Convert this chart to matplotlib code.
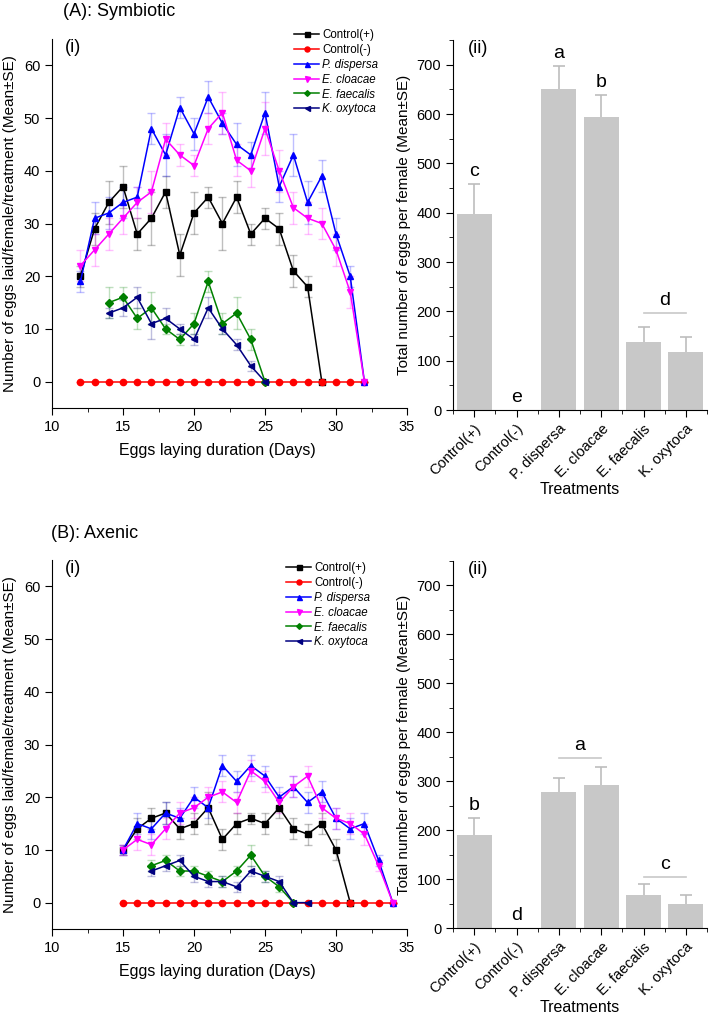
import numpy as np
import matplotlib
matplotlib.use("Agg")
import matplotlib.pyplot as plt
from matplotlib.ticker import MultipleLocator

plt.rcParams['font.family'] = ['Liberation Sans', 'DejaVu Sans']

series_names = ["Control(+)", "Control(-)", "P. dispersa", "E. cloacae", "E. faecalis", "K. oxytoca"]
colors = ["#000000", "#ff0000", "#0000ff", "#ff00ff", "#008000", "#000080"]
markers = ["s", "o", "^", "v", "D", "<"]

# ---- (A) symbiotic, daily eggs ----
symb_days = {
    "Control(+)": list(range(12, 30)),
    "Control(-)": list(range(12, 33)),
    "P. dispersa": list(range(12, 33)),
    "E. cloacae": list(range(12, 33)),
    "E. faecalis": list(range(14, 26)),
    "K. oxytoca": list(range(14, 26)),
}
symb_mean = {
    "Control(+)": [20, 29, 34, 37, 28, 31, 36, 24, 32, 35, 30, 35, 28, 31, 29, 21, 18, 0],
    "Control(-)": [0] * 21,
    "P. dispersa": [19, 31, 32, 34, 35, 48, 43, 52, 47, 54, 49, 45, 43, 51, 37, 43, 34, 39, 28, 20, 0],
    "E. cloacae": [22, 25, 28, 31, 34, 36, 46, 43, 41, 48, 51, 42, 40, 48, 40, 33, 31, 30, 25, 17, 0],
    "E. faecalis": [15, 16, 12, 14, 10, 8, 11, 19, 11, 13, 8, 0],
    "K. oxytoca": [13, 14, 16, 11, 12, 10, 8, 14, 10, 7, 3, 0],
}
symb_se = {
    "Control(+)": [2, 3, 4, 4, 3, 5, 3, 4, 4, 2, 5, 3, 2, 2, 3, 3, 2, 0],
    "Control(-)": [0] * 21,
    "P. dispersa": [2, 3, 3, 3, 2, 3, 4, 2, 3, 3, 2, 4, 2.5, 4, 3, 4, 4, 3, 3, 2, 0],
    "E. cloacae": [3, 3, 3, 3, 3, 4, 3, 2, 2, 3, 4, 3, 3, 5, 4, 3, 3, 3, 3, 3, 0],
    "E. faecalis": [3, 2, 2, 3, 1, 1, 2, 2, 2, 3, 2, 0],
    "K. oxytoca": [1, 1.5, 2, 3, 2, 1, 1, 2, 1, 1, 1, 0],
}

# ---- (B) axenic, daily eggs ----
axen_days = {
    "Control(+)": list(range(15, 32)),
    "Control(-)": list(range(15, 35)),
    "P. dispersa": list(range(15, 35)),
    "E. cloacae": list(range(15, 35)),
    "E. faecalis": list(range(17, 28)),
    "K. oxytoca": list(range(17, 29)),
}
axen_mean = {
    "Control(+)": [10, 14, 16, 17, 14, 15, 18, 12, 15, 16, 15, 18, 14, 13, 15, 10, 0],
    "Control(-)": [0] * 20,
    "P. dispersa": [10, 15, 14, 17, 16, 20, 18, 26, 23, 26, 24, 20, 22, 19, 21, 16, 14, 15, 8, 0],
    "E. cloacae": [10, 12, 11, 14, 17, 18, 20, 21, 19, 25, 23, 19, 22, 24, 18, 16, 15, 13, 7, 0],
    "E. faecalis": [7, 8, 6, 6, 5, 4, 6, 9, 5, 3, 0],
    "K. oxytoca": [6, 7, 8, 5, 4, 4, 3, 6, 5, 4, 0, 0],
}
axen_se = {
    "Control(+)": [1, 2, 2, 2, 2, 2, 3, 2, 2, 1, 2, 2, 2, 2, 2, 2, 0],
    "Control(-)": [0] * 20,
    "P. dispersa": [1, 2, 2, 2, 2, 2, 2, 2, 2, 2, 2, 2, 2, 2, 2, 2, 2, 2, 1, 0],
    "E. cloacae": [1, 2, 2, 2, 2, 2, 2, 2, 2, 2, 2, 2, 2, 2, 2, 2, 2, 2, 1, 0],
    "E. faecalis": [1, 1, 1, 1, 1, 1, 1, 2, 1, 1, 0],
    "K. oxytoca": [1, 1, 1, 1, 1, 1, 1, 1, 1, 1, 0, 0],
}

# ---- total eggs per female ----
treatments = ["Control(+)", "Control(-)", "P. dispersa", "E. cloacae", "E. faecalis", "K. oxytoca"]
symb_total = [398, 0, 651, 594, 137, 118]
symb_total_se = [60, 0, 47, 44, 32, 30]
symb_letters = ["c", "e", "a", "b", "", ""]
symb_groups = [(4, 5, 197, "d")]
axen_total = [190, 0, 278, 293, 68, 49]
axen_total_se = [34, 0, 28, 36, 22, 18]
axen_letters = ["b", "d", "", "", "", ""]
axen_groups = [(2, 3, 347, "a"), (4, 5, 105, "c")]

W, H = 709, 1015
fig = plt.figure(figsize=(W / 100, H / 100), dpi=100)


def px(l, t, r, b):
    return [l / W, 1 - b / H, (r - l) / W, (b - t) / H]


def line_panel(rect, days, mean, se, leg_xy):
    ax = fig.add_axes(rect)
    handles = []
    for name, c, m in zip(series_names, colors, markers):
        ax.errorbar(days[name], mean[name], yerr=se[name], fmt="none",
                    ecolor=c, alpha=0.25, elinewidth=1, capsize=3, capthick=1, zorder=1)
        ms = 3.6 if m == "D" else 4.5
        h, = ax.plot(days[name], mean[name], color=c, marker=m, ms=ms, lw=1.1, zorder=2)
        handles.append(h)
    ax.set_xlim(10, 35)
    ax.set_ylim(-5, 65)
    ax.xaxis.set_major_locator(MultipleLocator(5))
    ax.xaxis.set_minor_locator(MultipleLocator(2.5))
    ax.set_yticks([0, 10, 20, 30, 40, 50, 60])
    for s in ["top", "right"]:
        ax.spines[s].set_visible(False)
    ax.tick_params(which="major", direction="out", length=5, labelsize=10.5)
    ax.tick_params(which="minor", direction="out", length=3)
    ax.set_xlabel("Eggs laying duration (Days)", fontsize=11.5)
    ax.xaxis.set_label_coords(0.465, -0.095)
    ax.set_ylabel("Number of eggs laid/female/treatment (Mean\u00b1SE)", fontsize=11, labelpad=5)
    ax.text(0.037, 0.978, "(i)", transform=ax.transAxes, fontsize=13, va="center", ha="left")
    leg = fig.legend(handles, series_names, loc="upper left",
                     bbox_to_anchor=(leg_xy[0] / W, 1 - leg_xy[1] / H), frameon=False,
                     fontsize=8.3, handlelength=2.2, handletextpad=0.25, labelspacing=0.25,
                     borderpad=0, borderaxespad=0, markerscale=0.8)
    for t in leg.get_texts()[2:]:
        t.set_style("italic")
    return ax


def bar_panel(rect, vals, errs, letters, groups):
    ax = fig.add_axes(rect)
    x = np.arange(len(treatments))
    vals = np.array(vals, dtype=float)
    errs = np.array(errs, dtype=float)
    ax.bar(x, vals, width=0.82, color="#c8c8c8", zorder=1)
    has = errs > 0
    ax.vlines(x[has], vals[has], vals[has] + errs[has], color="#bdbdbd", lw=1.2, zorder=2)
    ax.plot(x[has], vals[has] + errs[has], ls="none", marker="_", ms=9, mew=1.2,
            color="#bdbdbd", zorder=2)
    for xi, v, e, lt in zip(x, vals, errs, letters):
        if lt:
            ax.text(xi, v + e + 8, lt, ha="center", va="bottom", fontsize=14)
    for i0, i1, yl, lt in groups:
        ax.plot([i0, i1], [yl, yl], color="#c8c8c8", lw=1.2)
        ax.text((i0 + i1) / 2, yl + 8, lt, ha="center", va="bottom", fontsize=14)
    ax.set_xlim(-0.5, 5.5)
    ax.set_ylim(0, 750)
    ax.yaxis.set_major_locator(MultipleLocator(100))
    ax.yaxis.set_minor_locator(MultipleLocator(50))
    ax.set_xticks(x)
    ax.set_xticks(np.arange(-0.5, 5.6, 1), minor=True)
    ax.set_xticklabels(treatments, rotation=45, ha="right", rotation_mode="anchor", fontsize=10.5)
    for s in ["top", "right"]:
        ax.spines[s].set_visible(False)
    ax.tick_params(which="major", direction="out", length=5, labelsize=10.5)
    ax.tick_params(which="minor", direction="out", length=3)
    ax.set_xlabel("Treatments", fontsize=11.5, labelpad=0)
    ax.set_ylabel("Total number of eggs per female (Mean\u00b1SE)", fontsize=11, labelpad=4)
    ax.text(0.06, 0.978, "(ii)", transform=ax.transAxes, fontsize=13, va="center", ha="left")
    return ax


line_panel(px(52, 39, 407, 408), symb_days, symb_mean, symb_se, (294, 29))
bar_panel(px(453, 40, 707, 410), symb_total, symb_total_se, symb_letters, symb_groups)
line_panel(px(52, 560, 407, 929), axen_days, axen_mean, axen_se, (286, 562))
bar_panel(px(453, 561, 707, 928), axen_total, axen_total_se, axen_letters, axen_groups)

fig.text(63 / W, 1 - 11 / H, "(A): Symbiotic", fontsize=13, va="center", ha="left")
fig.text(51 / W, 1 - 533 / H, "(B): Axenic", fontsize=13, va="center", ha="left")

fig.savefig("out.png", dpi=100)
